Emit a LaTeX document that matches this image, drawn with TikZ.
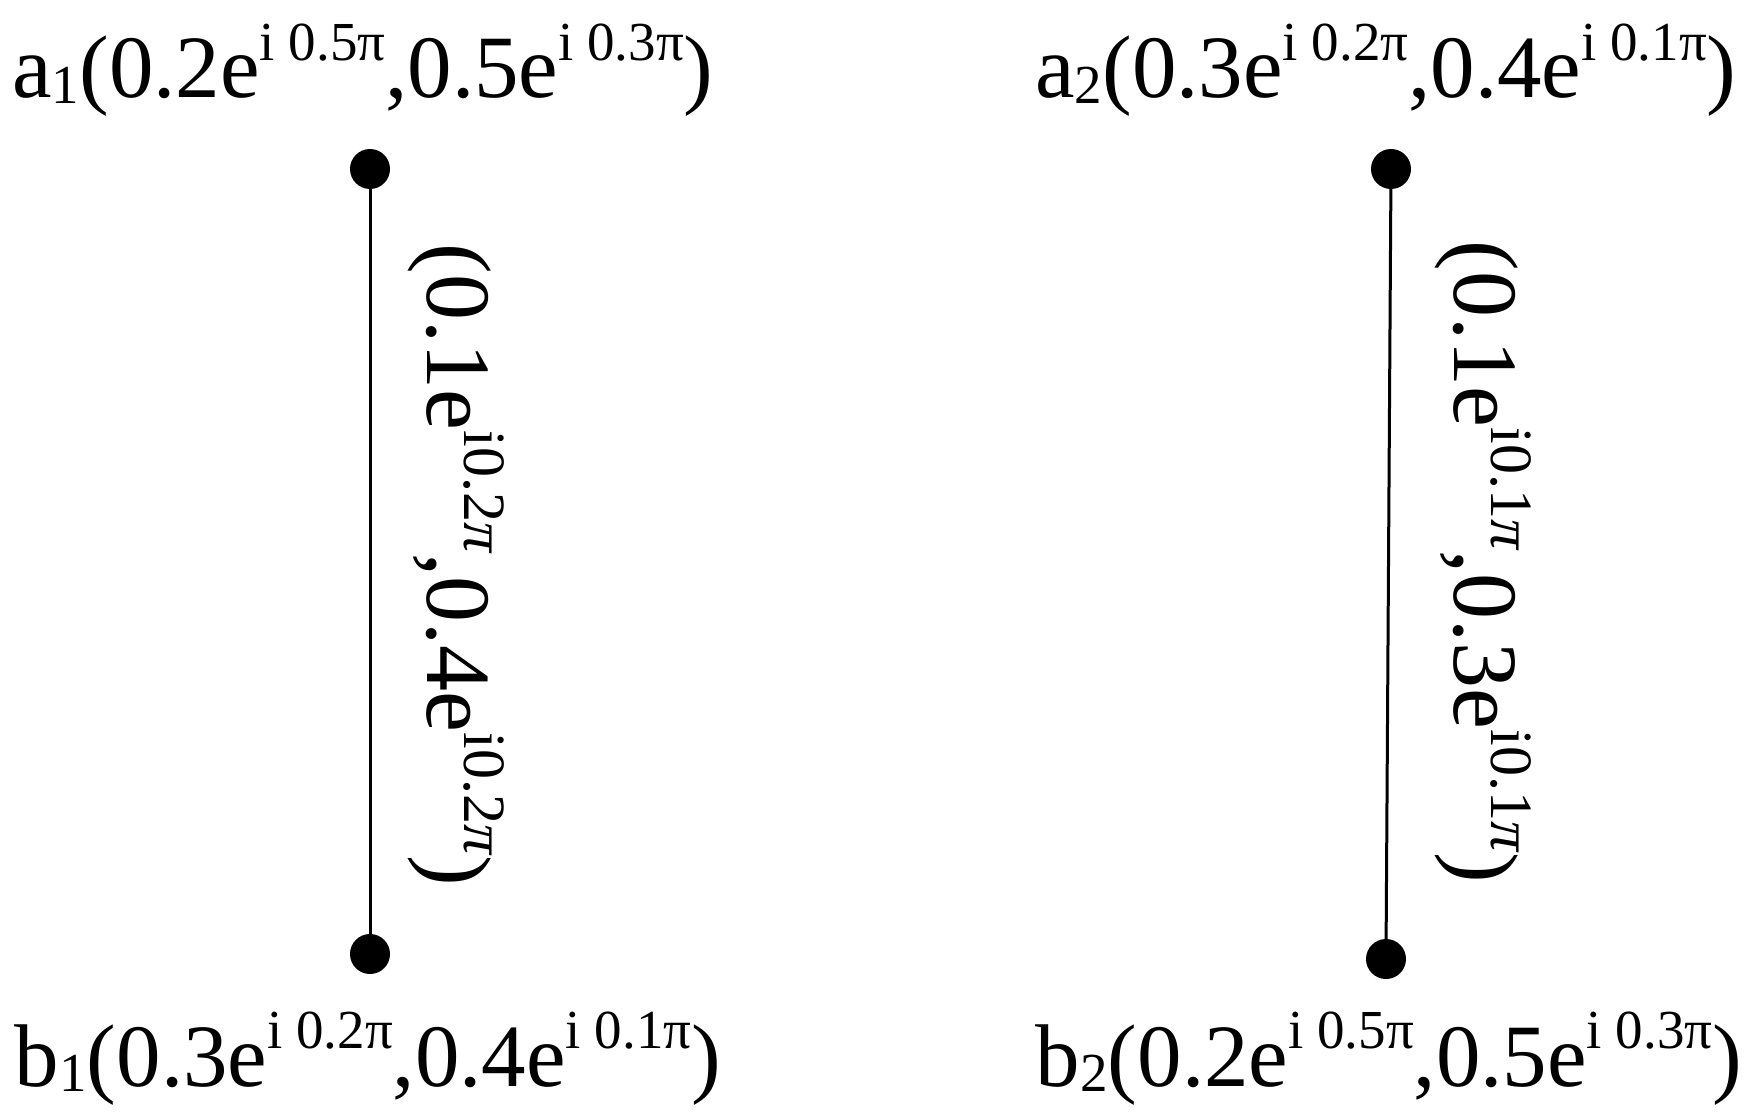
\documentclass[tikz,border=0pt]{standalone}
\usepackage{fontspec}
\setmainfont{Liberation Serif}
\newcommand\supx[1]{\raisebox{0.42em}{\fontsize{55}{55}\selectfont #1}}
\newcommand\supv[1]{\raisebox{0.40em}{\fontsize{60}{60}\selectfont #1}}
\newcommand\subx[1]{\raisebox{-0.06em}{\fontsize{55}{55}\selectfont #1}}
\begin{document}
\begin{tikzpicture}[x=1pt,y=-1pt,
  lbl/.style={font=\fontsize{89}{92}\selectfont, inner sep=0pt},
  vlbl/.style={font=\fontsize{92}{95}\selectfont, inner sep=0pt, rotate=-90},
  dot/.style={circle,fill=black,minimum size=40pt,inner sep=0pt},
  edge/.style={line width=3pt}]
\useasboundingbox (0,0) rectangle (1746,1118);
\node[dot] (a1) at (370,169) {};
\node[dot] (b1) at (370,954) {};
\node[dot] (a2) at (1391,169) {};
\node[dot] (b2) at (1386,959) {};
\draw[edge] (a1.center) -- (b1.center);
\draw[edge] (a2.center) -- (b2.center);
\node[lbl, anchor=base] (la1) at (363,98) {a\subx{1}(0.2e\supx{i 0.5π},0.5e\supx{i 0.3π})};
\node[lbl, anchor=base] (la2) at (1386,98) {a\subx{2}(0.3e\supx{i 0.2π},0.4e\supx{i 0.1π})};
\node[lbl, anchor=base] (lb1) at (368,1086) {b\subx{1}(0.3e\supx{i 0.2π},0.4e\supx{i 0.1π})};
\node[lbl, anchor=base] (lb2) at (1389,1086) {b\subx{2}(0.2e\supx{i 0.5π},0.5e\supx{i 0.3π})};
\node[vlbl] (e1) at (456,565) {(0.1e\supv{i0.2\textit{π}},0.4e\supv{i0.2\textit{π}})};
\node[vlbl] (e2) at (1483,562) {(0.1e\supv{i0.1\textit{π}},0.3e\supv{i0.1\textit{π}})};
\end{tikzpicture}
\end{document}
